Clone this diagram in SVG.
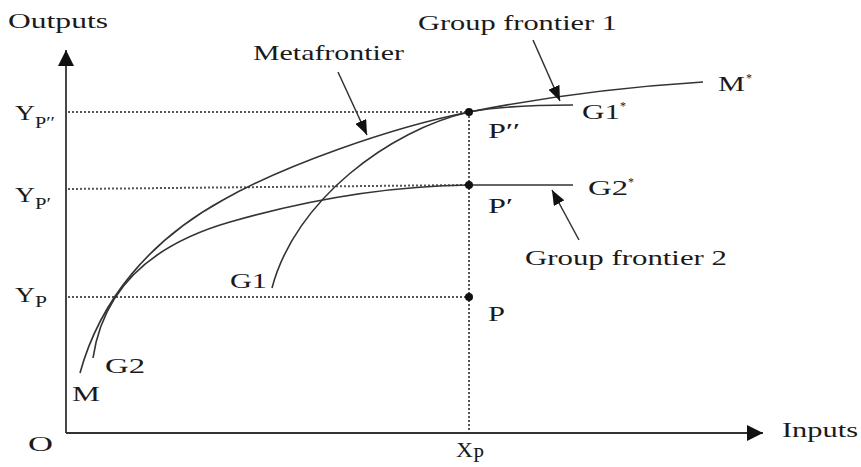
<svg xmlns="http://www.w3.org/2000/svg" width="861" height="467" viewBox="0 0 861 467">
<style>
text{font-family:"Liberation Serif","Times New Roman",serif;fill:#1a1a1a;font-size:21px}
.sub{font-size:17px}
.sup{font-size:12px}
.axis{stroke:#333;stroke-width:1.8;fill:none}
.curve{stroke:#333;stroke-width:1.6;fill:none}
.dot{stroke:#555;stroke-width:2;stroke-dasharray:2 2;fill:none}
.ptr{stroke:#333;stroke-width:1.5;fill:none;marker-end:url(#ah)}
.pt{fill:#111}
</style>
<defs>
<marker id="ah" viewBox="0 0 15 12" refX="15" refY="6" markerWidth="15" markerHeight="12" markerUnits="userSpaceOnUse" orient="auto"><path d="M0,0 L15,6 L0,12 z" fill="#111"/></marker>
<marker id="axh" viewBox="0 0 16 16" refX="16" refY="8" markerWidth="16" markerHeight="16" markerUnits="userSpaceOnUse" orient="auto"><path d="M0,0 L16,8 L0,16 z" fill="#111"/></marker>
</defs>
<g id="axes">
<path class="axis" d="M66,433 L66,50" marker-end="url(#axh)"/>
<path class="axis" d="M66,433 L763,433" marker-end="url(#axh)"/>
<text x="8" y="28" textLength="100" lengthAdjust="spacingAndGlyphs">Outputs</text>
<text x="782" y="437" textLength="76" lengthAdjust="spacingAndGlyphs">Inputs</text>
<text x="28" y="451" textLength="25" lengthAdjust="spacingAndGlyphs">O</text>
</g>
<g id="guides">
<path class="dot" d="M68,112 L469,112"/>
<path class="dot" d="M68,189 L469,185"/>
<path class="dot" d="M68,297 L469,297"/>
<path class="dot" d="M469,112 L469,432"/>
<text x="15" y="120" textLength="20" lengthAdjust="spacingAndGlyphs">Y</text>
<text class="sub" x="35" y="128" textLength="20" lengthAdjust="spacingAndGlyphs">P′′</text>
<text x="15" y="202" textLength="20" lengthAdjust="spacingAndGlyphs">Y</text>
<text class="sub" x="35" y="209" textLength="16" lengthAdjust="spacingAndGlyphs">P′</text>
<text x="15" y="302" textLength="20" lengthAdjust="spacingAndGlyphs">Y</text>
<text class="sub" x="35" y="307" textLength="12" lengthAdjust="spacingAndGlyphs">P</text>
<text x="456" y="457" textLength="17" lengthAdjust="spacingAndGlyphs">X</text>
<text x="473" y="462" font-size="15" textLength="11" lengthAdjust="spacingAndGlyphs">P</text>
</g>
<g id="metafrontier">
<path class="curve" d="M80,373 C100,300 150,240 223,200 C283,166 389,128 469,112 C549,96 623,87 703,82"/>
<text x="72" y="401" textLength="28" lengthAdjust="spacingAndGlyphs">M</text>
<text x="718" y="91" textLength="27" lengthAdjust="spacingAndGlyphs">M</text>
<text class="sup" x="746" y="82">*</text>
</g>
<g id="group-frontier-1">
<path class="curve" d="M272,288 C295,200 390,130 469,112 C500,106 540,105 573,105"/>
<text x="230" y="288" textLength="37" lengthAdjust="spacingAndGlyphs">G1</text>
<text x="582" y="119" textLength="38" lengthAdjust="spacingAndGlyphs">G1</text>
<text class="sup" x="620" y="110">*</text>
</g>
<g id="group-frontier-2">
<path class="curve" d="M93,358 C103,290 150,245 230,222 C310,199 390,186 469,185 L573,185"/>
<text x="105" y="373" textLength="40" lengthAdjust="spacingAndGlyphs">G2</text>
<text x="588" y="195" textLength="40" lengthAdjust="spacingAndGlyphs">G2</text>
<text class="sup" x="628" y="186">*</text>
</g>
<g id="point-P2">
<circle class="pt" cx="469" cy="112" r="4"/>
<text x="488" y="138" textLength="32" lengthAdjust="spacingAndGlyphs">P′′</text>
</g>
<g id="point-P1">
<circle class="pt" cx="469" cy="185" r="4"/>
<text x="488" y="213" textLength="25" lengthAdjust="spacingAndGlyphs">P′</text>
</g>
<g id="point-P">
<circle class="pt" cx="469" cy="297" r="4"/>
<text x="488" y="321" textLength="17" lengthAdjust="spacingAndGlyphs">P</text>
</g>
<g id="label-metafrontier">
<text x="253" y="60" textLength="151" lengthAdjust="spacingAndGlyphs">Metafrontier</text>
</g>
<g id="label-gf1">
<text x="418" y="30" textLength="199" lengthAdjust="spacingAndGlyphs">Group frontier 1</text>
</g>
<g id="label-gf2">
<text x="525" y="265" textLength="202" lengthAdjust="spacingAndGlyphs">Group frontier 2</text>
</g>
<g id="connectors">
<path class="ptr" d="M338,72 L367,135"/>
<path class="ptr" d="M533,40 L560,101"/>
<path class="ptr" d="M579,240 L552,190"/>
</g>
</svg>
